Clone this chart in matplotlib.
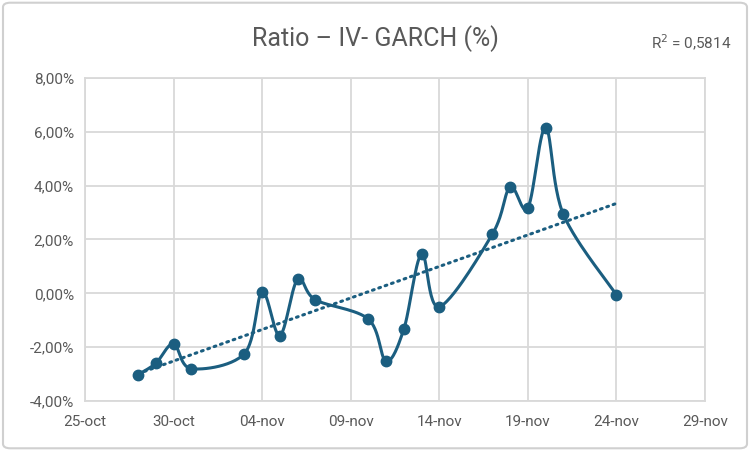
import numpy as np
import pandas as pd
import matplotlib
matplotlib.use("Agg")
import matplotlib.pyplot as plt
import matplotlib.dates as mdates
from matplotlib.patches import FancyBboxPatch
from matplotlib.ticker import FuncFormatter

# data
dates = pd.to_datetime([
    "2024-10-28", "2024-10-29", "2024-10-30", "2024-10-31", "2024-11-03",
    "2024-11-04", "2024-11-05", "2024-11-06", "2024-11-07", "2024-11-10",
    "2024-11-11", "2024-11-12", "2024-11-13", "2024-11-14", "2024-11-17",
    "2024-11-18", "2024-11-19", "2024-11-20", "2024-11-21", "2024-11-24",
])
ratio = [-3.02, -2.60, -1.88, -2.80, -2.24,
         0.05, -1.57, 0.52, -0.24, -0.96,
         -2.52, -1.33, 1.46, -0.50, 2.20,
         3.95, 3.17, 6.16, 2.94, -0.06]
title = "Ratio – IV- GARCH (%)"
r2_label = "R$^2$ = 0,5814"

LINE = "#1B5E80"
GRID = "#D9D9D9"
TXT = "#595959"

plt.rcParams["font.family"] = ["Liberation Sans Narrow", "Roboto", "DejaVu Sans"]


def smooth(x, y, n=30):
    # Excel-like smoothed line: cubic Bezier with Catmull-Rom control points
    x = np.asarray(x, float)
    y = np.asarray(y, float)
    px = np.concatenate([[x[0]], x, [x[-1]]])
    py = np.concatenate([[y[0]], y, [y[-1]]])
    xs, ys = [], []
    t = np.linspace(0, 1, n)
    for i in range(1, len(x)):
        p0 = np.array([px[i], py[i]])
        p3 = np.array([px[i + 1], py[i + 1]])
        c1 = p0 + (np.array([px[i + 1], py[i + 1]]) - np.array([px[i - 1], py[i - 1]])) / 6
        c2 = p3 - (np.array([px[i + 2], py[i + 2]]) - np.array([px[i], py[i]])) / 6
        b = ((1 - t) ** 3)[:, None] * p0 + (3 * (1 - t) ** 2 * t)[:, None] * c1 \
            + (3 * (1 - t) * t ** 2)[:, None] * c2 + (t ** 3)[:, None] * p3
        xs.append(b[:, 0])
        ys.append(b[:, 1])
    return np.concatenate(xs), np.concatenate(ys)


xnum = mdates.date2num(dates)
sx, sy = smooth(xnum, ratio)

fig = plt.figure(figsize=(7.5, 4.51), dpi=100)
fig.patches.append(FancyBboxPatch((0.004, 0.006), 0.992, 0.988,
                                  boxstyle="round,pad=0,rounding_size=0.01",
                                  transform=fig.transFigure, fill=False,
                                  edgecolor="#D0D0D0", lw=1.5))
ax = fig.add_axes([0.1133, 0.111, 0.8267, 0.716])

ax.plot(sx, sy, color=LINE, lw=2.2, zorder=3)
ax.plot(xnum, ratio, "o", color=LINE, ms=7.5, zorder=4)

coef = np.polyfit(xnum, ratio, 1)
tx = np.array([xnum[0], xnum[-1]])
ax.plot(tx, np.polyval(coef, tx), color=LINE, lw=2.2, ls=(0, (0.6, 1.6)),
        dash_capstyle="round", zorder=2)

ax.set_xlim(mdates.date2num(pd.Timestamp("2024-10-25")),
            mdates.date2num(pd.Timestamp("2024-11-29")))
ax.set_ylim(-4, 8)
ax.set_yticks(np.arange(-4, 8.1, 2))
ax.yaxis.set_major_formatter(FuncFormatter(lambda v, p: f"{v:.2f}%".replace(".", ",")))
xt = pd.date_range("2024-10-25", "2024-11-29", freq="5D")
ax.set_xticks(mdates.date2num(xt))
ax.set_xticklabels([d.strftime("%d-") + ("oct" if d.month == 10 else "nov") for d in xt])

ax.grid(True, color=GRID, lw=1.3)
ax.set_axisbelow(True)
for s in ax.spines.values():
    s.set_color(GRID)
    s.set_linewidth(1.3)
ax.tick_params(length=0, labelsize=11, colors=TXT, pad=10)
ax.tick_params(axis="y", pad=8)

fig.text(0.5, 0.915, title, ha="center", va="center", fontsize=18, color=TXT)
fig.text(0.975, 0.905, r2_label, ha="right", va="center", fontsize=11, color=TXT)

fig.savefig("out.png", dpi=100)
